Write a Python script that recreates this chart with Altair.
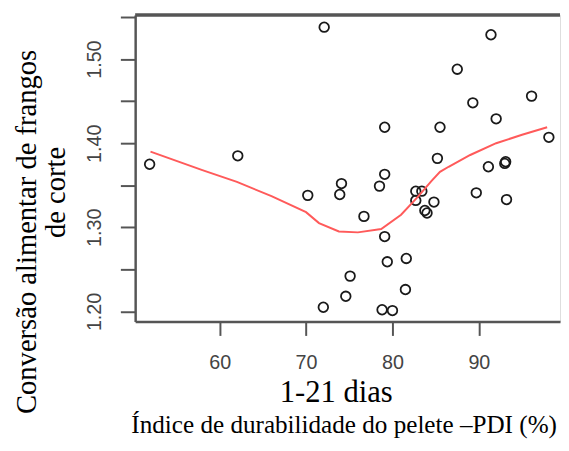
import altair as alt
import pandas as pd

# Scatter data: PDI (%) vs feed conversion
pdi = [51.9, 62.1, 72.1, 91.4, 87.5, 89.3, 96.1, 92.0, 79.1, 85.5, 98.1, 85.2,
       91.1, 93.0, 93.1, 79.1, 74.1, 78.5, 73.9, 70.2, 82.7, 83.4, 82.7, 84.8,
       83.75, 84.0, 89.7, 93.2, 76.7, 79.1, 79.4, 81.6, 75.1, 74.6, 81.5, 72.0,
       78.8, 80.0]
ca = [1.375, 1.385, 1.538, 1.529, 1.488, 1.448, 1.456, 1.429, 1.419, 1.419,
      1.407, 1.382, 1.372, 1.376, 1.378, 1.363, 1.352, 1.349, 1.339, 1.338,
      1.343, 1.343, 1.332, 1.330, 1.320, 1.317, 1.341, 1.333, 1.313, 1.289,
      1.259, 1.263, 1.242, 1.218, 1.226, 1.205, 1.202, 1.201]

# Smoothed (loess) curve
smooth_x = [52.0, 58.0, 62.0, 66.0, 70.0, 71.5, 73.8, 76.0, 78.7, 81.0, 82.9,
            84.5, 85.5, 86.5, 89.0, 92.0, 95.0, 97.9]
smooth_y = [1.390, 1.368, 1.354, 1.337, 1.318, 1.305, 1.295, 1.294, 1.298,
            1.315, 1.336, 1.355, 1.366, 1.372, 1.386, 1.400, 1.410, 1.419]

x_ticks = [60, 70, 80, 90]
y_ticks = [1.20, 1.25, 1.30, 1.35, 1.40, 1.45, 1.50, 1.55]

y_title_lines = ["Conversão alimentar  de frangos", "de corte"]
period_label = ["1-21 dias"]
x_title = ["Índice de durabilidade do pelete –PDI (%)"]

W, H = 431, 311
AX = "#555555"
SERIF = "Liberation Serif"

pts_df = pd.DataFrame({"pdi": pdi, "ca": ca})
line_df = pd.DataFrame({"pdi": smooth_x, "ca": smooth_y})

xscale = alt.Scale(domain=[50.225, 99.39], nice=False, zero=False)
yscale = alt.Scale(domain=[1.1879, 1.5524], nice=False, zero=False)

xaxis = alt.Axis(values=x_ticks, title=None, grid=False, domainColor=AX,
                 domainWidth=2.5, tickColor=AX, tickWidth=2, tickSize=14,
                 labelFont="Liberation Sans", labelFontSize=20, labelColor="#444444",
                 labelBaseline="alphabetic", labelPadding=34, labelFlush=False)
yaxis = alt.Axis(values=y_ticks, title=None, grid=False, domainColor=AX,
                 domainWidth=2.5, tickColor=AX, tickWidth=2, tickSize=15,
                 labelExpr="round(datum.value*100) % 10 == 0 ? format(datum.value, '.2f') : ''",
                 labelFont="Liberation Sans", labelFontSize=20, labelColor="#444444",
                 labelAngle=270, labelAlign="center", labelBaseline="alphabetic",
                 labelPadding=20, labelFlush=False, labelOverlap=False)

points = alt.Chart(pts_df).mark_point(
    shape="circle", filled=False, size=95, stroke="#1a1a1a", strokeWidth=1.8, opacity=1
).encode(
    x=alt.X("pdi:Q", scale=xscale, axis=xaxis),
    y=alt.Y("ca:Q", scale=yscale, axis=yaxis),
)

curve = alt.Chart(line_df).mark_line(color="#ff5a5a", strokeWidth=2).encode(
    x=alt.X("pdi:Q", scale=xscale),
    y=alt.Y("ca:Q", scale=yscale),
    order=alt.Order("pdi:Q"),
)

top_rule = alt.Chart(pd.DataFrame({"k": [0]})).mark_rule(
    color=AX, strokeWidth=3.5
).encode(x=alt.value(0), x2=alt.value(W), y=alt.value(0))

def text_layer(lines, size, x, y, angle=0):
    return alt.Chart(pd.DataFrame({"t": lines})).mark_text(
        font=SERIF, fontSize=size, color="black", align="center",
        baseline="alphabetic", angle=angle
    ).encode(text="t:N", x=alt.value(x), y=alt.value(y))

ytitle1 = text_layer([y_title_lines[0]], 29, -101, 220, angle=270)
ytitle2 = text_layer([y_title_lines[1]], 29, -71, 180, angle=270)
period = text_layer(period_label, 31, 204, 393)
xtitle = text_layer(x_title, 25.5, 212, 424)

chart = alt.layer(points, curve, top_rule, ytitle1, ytitle2, period, xtitle).properties(
    width=W, height=H,
    autosize=alt.AutoSizeParams(type="none"),
    padding={"left": 129, "top": 4, "right": 1, "bottom": 120},
).configure_view(stroke=None).configure(background="white")

chart.save("out.html", embed_options={"renderer": "svg", "actions": False})
